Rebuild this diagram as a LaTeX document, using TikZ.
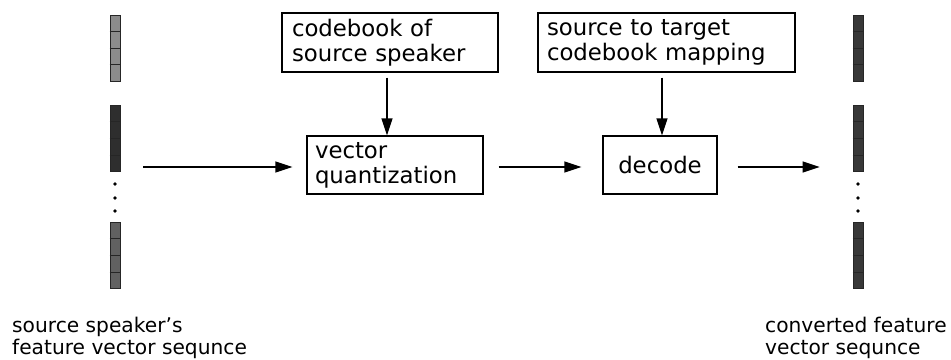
\documentclass[tikz,border=0pt]{standalone}
\usepackage{fontspec}
\setmainfont{DejaVu Sans}
\usetikzlibrary{arrows.meta,calc}

\tikzset{
  box/.style={draw, line width=1.2pt, inner sep=0pt, align=left, anchor=center,
              font=\fontsize{22.8}{25}\selectfont},
  cellcol/.style={draw=black!85, line width=0.8pt, minimum width=10pt,
                  minimum height=66pt, inner sep=0pt},
  arr/.style={line width=1.2pt, -{Triangle[length=17pt,width=11pt]}},
  caption/.style={align=left, anchor=north west, inner sep=0pt,
                  font=\fontsize{20.2}{22}\selectfont},
  dotmark/.style={circle, fill=black, inner sep=0pt, minimum size=3.6pt}
}

\begin{document}
\begin{tikzpicture}[x=1pt, y=-1pt]
  \useasboundingbox (0,0) rectangle (951,359);

  % processing blocks
  \node[box, minimum width=216pt, minimum height=59pt, text width=196pt]
    (cb) at (390,42.5) {codebook of\\source speaker};
  \node[box, minimum width=257pt, minimum height=59pt, text width=239pt]
    (map) at (666.5,42.5) {source to target\\codebook mapping};
  \node[box, minimum width=176pt, minimum height=58pt, text width=160pt]
    (vq) at (395,165) {vector\\quantization};
  \node[box, minimum width=114pt, minimum height=58pt, align=center]
    (dec) at (660,165) {decode};

  % input feature vectors
  \node[cellcol, fill=black!45] (in1) at (115,48)    {};
  \node[cellcol, fill=black!82] (in2) at (115,138.5) {};
  \node[cellcol, fill=black!62] (in3) at (115,255.5) {};
  % output feature vectors
  \node[cellcol, fill=black!78] (out1) at (858,48)    {};
  \node[cellcol, fill=black!78] (out2) at (858,138.5) {};
  \node[cellcol, fill=black!78] (out3) at (858,255.5) {};

  % split every column into four cells
  \foreach \g in {in1,in2,in3,out1,out2,out3}
    \foreach \i in {1,2,3}
      \draw[black!85, line width=0.8pt]
        ($(\g.north west)!\i/4!(\g.south west)$) --
        ($(\g.north east)!\i/4!(\g.south east)$);

  % ellipsis dots between the vector groups
  \foreach \y [count=\k] in {184,198,211} {
    \node[dotmark] (ldot\k) at (115,\y) {};
    \node[dotmark] (rdot\k) at (858,\y) {};
  }

  % data flow, level with the processing blocks
  \coordinate (flowin)  at ($(in2.east |- vq.west)+(0,2)$);
  \coordinate (flowout) at ($(out2.west |- dec.east)+(0,2)$);
  \draw[arr, shorten <=23pt, shorten >=14pt] (flowin) -- ([yshift=-2pt]vq.west);
  \draw[arr, shorten <=15pt, shorten >=21pt] ([yshift=-2pt]vq.east) -- ([yshift=-2pt]dec.west);
  \draw[arr, shorten <=20pt, shorten >=33pt] ([yshift=-2pt]dec.east) -- (flowout);
  \draw[arr, shorten <=5pt] ([xshift=-3pt]cb.south) -- ([xshift=-3pt]cb.south |- vq.north);
  \draw[arr, shorten <=5pt] ([xshift=-4.5pt]map.south) -- ([xshift=-4.5pt]map.south |- dec.north);

  % captions
  \node[caption] (lcap) at (12,317) {source speaker’s\\feature vector sequnce};
  \node[caption] (rcap) at (765,317) {converted feature\\vector sequnce};
\end{tikzpicture}
\end{document}
